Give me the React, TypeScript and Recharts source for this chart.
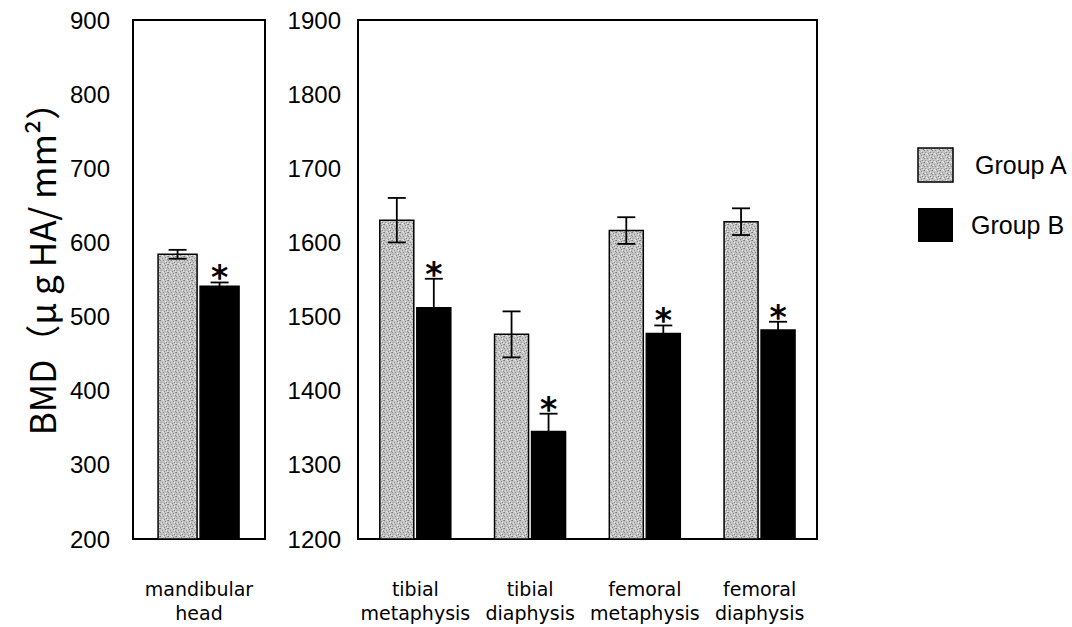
import React from 'react';
import {
  BarChart,
  Bar,
  XAxis,
  YAxis,
  ErrorBar,
  LabelList,
  ReferenceArea
} from 'recharts';

// mandibular panel
const leftCategories = ['mandibular\nhead'];
const leftGroupA = [584];
const leftGroupAErr = [6];
const leftGroupB = [541];
const leftGroupBErr = [5];
const leftTicks = [200, 300, 400, 500, 600, 700, 800, 900];

// long bones panel
const rightCategories = [
  'tibial\nmetaphysis',
  'tibial\ndiaphysis',
  'femoral\nmetaphysis',
  'femoral\ndiaphysis'
];
const rightGroupA = [1630, 1476, 1616, 1628];
const rightGroupAErr = [30, 31, 18, 18];
const rightGroupB = [1512, 1345, 1477, 1482];
const rightGroupBErr = [39, 24, 11, 11];
const rightTicks = [1200, 1300, 1400, 1500, 1600, 1700, 1800, 1900];

const seriesNames = ['Group A', 'Group B'];
const yLabel = 'BMD（μ g HA/ mm²）';

const numFont = '"Liberation Sans", Arial, sans-serif';
const catFont = '"DejaVu Sans", sans-serif';

// speckle positions for the grey texture (x, y, shade)
const darkDots: [number, number, string][] = [
  [0, 0, '#7a7a7a'], [5, 1, '#868686'], [2, 2, '#8e8e8e'], [7, 3, '#7c7c7c'],
  [3, 4, '#888888'], [6, 6, '#808080'], [1, 6, '#909090'], [4, 7, '#848484'],
  [7, 0, '#969696'], [0, 4, '#8a8a8a']
];
const lightDots: [number, number][] = [[3, 0], [6, 2], [1, 3], [5, 5], [2, 7], [7, 7]];

const buildRows = (cats: string[], a: number[], aErr: number[], b: number[], bErr: number[]) =>
  cats.map((c, i) => ({ name: c, a: a[i], aErr: aErr[i], b: b[i], bErr: bErr[i] }));

const Stipple = ({ id }: { id: string }) => (
  <defs>
    <pattern id={id} width="8" height="8" patternUnits="userSpaceOnUse">
      <rect width="8" height="8" fill="#c4c4c4" />
      {darkDots.map(([x, y, c], i) => (
        <rect key={`d${i}`} x={x} y={y} width="1" height="1" fill={c} />
      ))}
      {lightDots.map(([x, y], i) => (
        <rect key={`l${i}`} x={x} y={y} width="1" height="1" fill="#ececec" />
      ))}
    </pattern>
  </defs>
);

const CategoryTick = ({ x, y, payload }: any) => {
  const lines = String(payload.value).split('\n');
  return (
    <text x={x} y={y} textAnchor="middle" fontFamily={catFont} fontSize={19} fill="#000">
      {lines.map((l, i) => (
        <tspan key={i} x={x} y={y + 49 + i * 24}>{l}</tspan>
      ))}
    </text>
  );
};

const makeStar = (rows: any[], min: number) => (props: any) => {
  const { x, y, width, height, index } = props;
  const row = rows[index];
  if (!row || !height) return null;
  const pxPerUnit = height / (row.b - min);
  const errTop = y - row.bErr * pxPerUnit;
  return (
    <text x={x + width / 2} y={errTop + 7} textAnchor="middle" fontFamily={catFont}
      fontWeight="bold" fontSize={33} fill="#000">*</text>
  );
};

interface PanelProps {
  rows: any[];
  ticks: number[];
  left: number;
  width: number;
  marginLeft: number;
  marginRight: number;
  tickMargin: number;
  patternId: string;
}

const Panel: React.FC<PanelProps> = ({ rows, ticks, left, width, marginLeft, marginRight, tickMargin, patternId }) => {
  const min = ticks[0];
  const max = ticks[ticks.length - 1];
  return (
    <div style={{ position: 'absolute', left, top: 0 }}>
      <BarChart
        width={width}
        height={627}
        data={rows}
        margin={{ top: 20, right: marginRight, left: marginLeft, bottom: 58 }}
        barGap={3}
        barCategoryGap="19%"
      >
        <Stipple id={patternId} />
        <XAxis
          dataKey="name"
          height={30}
          tick={<CategoryTick />}
          tickLine={false}
          axisLine={false}
          interval={0}
        />
        <YAxis
          width={60}
          domain={[min, max]}
          ticks={ticks}
          allowDataOverflow
          tickLine={false}
          axisLine={false}
          tickSize={6}
          tickMargin={tickMargin}
          tick={{ fontFamily: numFont, fontSize: 24, fill: '#000' }}
        />
        <ReferenceArea y1={min} y2={max} fill="none" stroke="#000" strokeWidth={2} ifOverflow="visible" />
        <Bar dataKey="a" name={seriesNames[0]} fill={`url(#${patternId})`} stroke="#000" strokeWidth={1.5} isAnimationActive={false}>
          <ErrorBar dataKey="aErr" width={9} stroke="#000" strokeWidth={1.8} direction="y" isAnimationActive={false} />
        </Bar>
        <Bar dataKey="b" name={seriesNames[1]} fill="#000" stroke="#000" strokeWidth={1.5} isAnimationActive={false}>
          <ErrorBar dataKey="bErr" width={9} stroke="#000" strokeWidth={1.8} direction="y" isAnimationActive={false} />
          <LabelList dataKey="b" content={makeStar(rows, min)} />
        </Bar>
      </BarChart>
    </div>
  );
};

const Legend = () => (
  <div style={{ position: 'absolute', left: 916, top: 146 }}>
    <svg width={160} height={100}>
      <Stipple id="legendStipple" />
      <rect x={2} y={2} width={35} height={34} fill="url(#legendStipple)" stroke="#000" strokeWidth={1.5} />
      <text x={59} y={28} fontFamily={numFont} fontSize={25} fill="#000">{seriesNames[0]}</text>
      <rect x={2} y={62} width={35} height={34} fill="#000" />
      <text x={55} y={88} fontFamily={numFont} fontSize={25} fill="#000">{seriesNames[1]}</text>
    </svg>
  </div>
);

export default function App() {
  const leftRows = buildRows(leftCategories, leftGroupA, leftGroupAErr, leftGroupB, leftGroupBErr);
  const rightRows = buildRows(rightCategories, rightGroupA, rightGroupAErr, rightGroupB, rightGroupBErr);
  return (
    <div style={{ position: 'absolute', left: 0, top: 0, width: 1072, height: 627, background: '#fff', overflow: 'hidden' }}>
      <div
        style={{
          position: 'absolute',
          left: 40,
          top: 260,
          transform: 'translate(-50%, -50%) rotate(-90deg)',
          whiteSpace: 'nowrap',
          fontFamily: '"Noto Sans CJK JP", "Liberation Sans", sans-serif',
          fontSize: 35,
          color: '#000'
        }}
      >
        {yLabel}
      </div>
      <Panel rows={leftRows} ticks={leftTicks} left={0} width={300} marginLeft={73} marginRight={35} tickMargin={17} patternId="stippleL" />
      <Panel rows={rightRows} ticks={rightTicks} left={280} width={560} marginLeft={18} marginRight={23} tickMargin={11} patternId="stippleR" />
      <Legend />
    </div>
  );
}
